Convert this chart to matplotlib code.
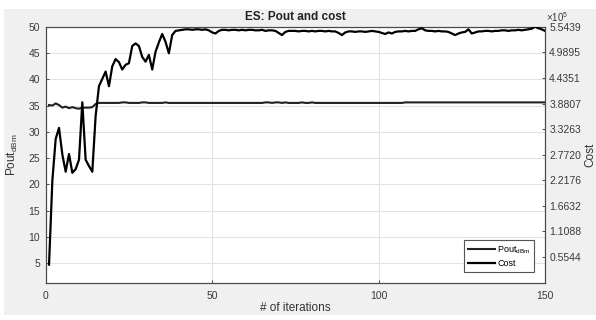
import numpy as np
import matplotlib
matplotlib.use("Agg")
import matplotlib.pyplot as plt
from matplotlib.patches import Rectangle

plt.rcParams['font.family'] = ['Liberation Sans', 'DejaVu Sans']
plt.rcParams['mathtext.fontset'] = 'custom'
plt.rcParams['mathtext.rm'] = 'Liberation Sans'

# ---------------- data ----------------
iterations = list(range(1, 151))

pout_dbm = [35.1, 35.0, 35.4, 35.1, 34.6, 34.8, 34.5, 34.7, 34.5, 34.4,
            34.6, 34.6, 34.6, 34.7, 35.3, 35.5, 35.5, 35.5, 35.5, 35.5,
            35.5, 35.5, 35.6, 35.6, 35.5, 35.5, 35.5, 35.5, 35.6, 35.6,
            35.5, 35.5, 35.5, 35.5, 35.5, 35.6, 35.5, 35.5, 35.5, 35.5,
            35.5, 35.5, 35.5, 35.5, 35.5, 35.5, 35.5, 35.5, 35.5, 35.5,
            35.5, 35.5, 35.5, 35.5, 35.5, 35.5, 35.5, 35.5, 35.5, 35.5,
            35.5, 35.5, 35.5, 35.5, 35.5, 35.6, 35.6, 35.5, 35.6, 35.6,
            35.5, 35.6, 35.5, 35.5, 35.5, 35.5, 35.6, 35.5, 35.5, 35.6,
            35.5, 35.5, 35.5, 35.5, 35.5, 35.5, 35.5, 35.5, 35.5, 35.5,
            35.5, 35.5, 35.5, 35.5, 35.5, 35.5, 35.5, 35.5, 35.5, 35.5,
            35.5, 35.5, 35.5, 35.5, 35.5, 35.5, 35.5, 35.6, 35.6, 35.6,
            35.6, 35.6, 35.6, 35.6, 35.6, 35.6, 35.6, 35.6, 35.6, 35.6,
            35.6, 35.6, 35.6, 35.6, 35.6, 35.6, 35.6, 35.6, 35.6, 35.6,
            35.6, 35.6, 35.6, 35.6, 35.6, 35.6, 35.6, 35.6, 35.6, 35.6,
            35.6, 35.6, 35.6, 35.6, 35.6, 35.6, 35.6, 35.6, 35.6, 35.6]

# cost, in units of 1e5
cost_1e5 = [0.392, 2.211, 3.115, 3.352, 2.776, 2.403, 2.787, 2.380, 2.459, 2.663,
            3.906, 2.663, 2.527, 2.403, 3.612, 4.256, 4.414, 4.572, 4.256, 4.685,
            4.843, 4.776, 4.617, 4.719, 4.753, 5.126, 5.182, 5.126, 4.889, 4.787,
            4.934, 4.617, 5.002, 5.205, 5.386, 5.216, 4.968, 5.363, 5.453, 5.465,
            5.476, 5.487, 5.487, 5.476, 5.487, 5.487, 5.476, 5.487, 5.465, 5.420,
            5.397, 5.453, 5.476, 5.476, 5.465, 5.476, 5.476, 5.465, 5.476, 5.465,
            5.476, 5.476, 5.465, 5.465, 5.476, 5.453, 5.465, 5.465, 5.453, 5.408,
            5.363, 5.431, 5.453, 5.453, 5.453, 5.442, 5.453, 5.453, 5.442, 5.453,
            5.442, 5.453, 5.453, 5.442, 5.453, 5.442, 5.442, 5.408, 5.363, 5.420,
            5.442, 5.442, 5.431, 5.442, 5.442, 5.431, 5.442, 5.453, 5.442, 5.431,
            5.408, 5.386, 5.420, 5.397, 5.431, 5.442, 5.442, 5.453, 5.442, 5.453,
            5.453, 5.487, 5.510, 5.465, 5.453, 5.453, 5.442, 5.453, 5.442, 5.442,
            5.431, 5.397, 5.363, 5.397, 5.420, 5.431, 5.487, 5.397, 5.420, 5.442,
            5.442, 5.453, 5.453, 5.442, 5.453, 5.453, 5.465, 5.465, 5.453, 5.465,
            5.465, 5.476, 5.465, 5.476, 5.487, 5.499, 5.5439, 5.510, 5.487, 5.453]

x_ticks = [0, 50, 100, 150]
left_ticks = [5, 10, 15, 20, 25, 30, 35, 40, 45, 50]
right_tick_labels = ['0.5544', '1.1088', '1.6632', '2.2176', '2.7720',
                     '3.3263', '3.8807', '4.4351', '4.9895', '5.5439']

cost = np.array(cost_1e5) * 1e5
right_ticks = [float(s) * 1e5 for s in right_tick_labels]

# ---------------- figure ----------------
W, H = 596, 320
fig = plt.figure(figsize=(W / 100, H / 100), dpi=100, facecolor='white')
fig.patches.append(Rectangle((4 / W, 1 - 315 / H), 1, (315 - 9) / H,
                             transform=fig.transFigure, facecolor='#f0f0f0',
                             edgecolor='none', zorder=-10))

L, R, T, B = 45.7, 545.0, 26.7, 282.7
ax = fig.add_axes([L / W, 1 - B / H, (R - L) / W, (B - T) / H])
ax.set_facecolor('white')
ax2 = ax.twinx()

tick_col = '#3a3a3a'
spine_col = '#4a4a4a'

l1, = ax.plot(iterations, pout_dbm, color='#222222', lw=1.5, zorder=3)
l2, = ax2.plot(iterations, cost, color='black', lw=1.6, zorder=3)

ax.set_xlim(0, 150)
ax.set_ylim(1.3, 50)
ax2.set_ylim(0, 5.5439e5)

ax.set_xticks(x_ticks)
ax.set_xticklabels([str(v) for v in x_ticks])
ax.set_yticks(left_ticks)
ax.set_yticklabels([str(v) for v in left_ticks])
ax2.set_yticks(right_ticks)
ax2.set_yticklabels(right_tick_labels)

ax.grid(True, color='#e3e3e3', lw=0.8)
ax.set_axisbelow(True)

for a in (ax, ax2):
    for s in a.spines.values():
        s.set_color(spine_col)
        s.set_linewidth(0.8)
    a.tick_params(direction='in', length=2.5, width=0.7, colors=spine_col,
                  labelcolor=tick_col, labelsize=7.5)
ax.tick_params(axis='y', pad=4)
ax.tick_params(axis='x', pad=6)
ax2.tick_params(axis='y', pad=3)

ax.set_title('ES: Pout and cost', fontsize=8.5, fontweight='bold',
             color='#222222', pad=5)
ax.set_xlabel('# of iterations', fontsize=8.5, color='#333333', labelpad=1)
ax.set_ylabel('Pout$_{\\mathrm{dBm}}$', fontsize=8.5, color='#333333')
ax.yaxis.set_label_coords(-0.052, 0.5)
ax2.set_ylabel('Cost', fontsize=8.5, color='#333333', rotation=90)
ax2.yaxis.set_label_coords(1.079, 0.5)

ax2.text(1.002, 1.012, '$\\times10^{5}$', transform=ax2.transAxes,
         fontsize=7, color=tick_col, ha='left', va='bottom')

leg = ax2.legend([l1, l2], ['Pout$_{\\mathrm{dBm}}$', 'Cost'],
                 loc='lower right', bbox_to_anchor=(0.988, 0.025),
                 fontsize=6.5, handlelength=2.9, handletextpad=0.3,
                 borderpad=0.45, labelspacing=0.35, fancybox=False,
                 framealpha=1, edgecolor='#555555')
leg.get_frame().set_linewidth(0.8)

fig.savefig('out.png', dpi=100, facecolor=fig.get_facecolor())
